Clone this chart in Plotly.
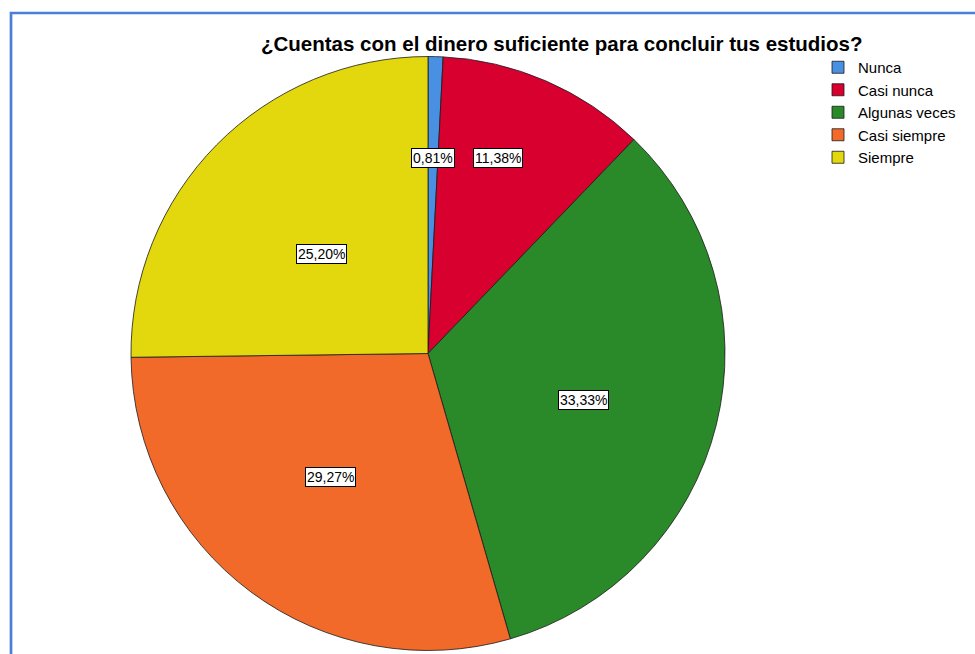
import math
import plotly.graph_objects as go

categories = ["Nunca", "Casi nunca", "Algunas veces", "Casi siempre", "Siempre"]
counts = [1, 14, 41, 36, 31]
pct_labels = ["0,81%", "11,38%", "33,33%", "29,27%", "25,20%"]
title_text = "¿Cuentas con el dinero suficiente para concluir tus estudios?"

colors = ["#4a90e2", "#d8002f", "#2a8a2a", "#f26a2a", "#e3d70e"]
label_radius = [0.66, 0.70, 0.545, 0.53, 0.49]
label_angle_shift = [0.0, -3.7, 2.8, 1.8, -1.7]

W, H = 975, 654
cx, cy, R = 428, 353.5, 297
FONT = "Liberation Sans, Arial, sans-serif"

fig = go.Figure(go.Pie(
    labels=categories, values=counts, sort=False, direction="clockwise",
    rotation=0, textinfo="none", hoverinfo="label+percent",
    marker=dict(colors=colors, line=dict(color="#1a1a1a", width=0.8)),
    domain=dict(x=[(cx - R) / W, (cx + R) / W], y=[1 - (cy + R) / H, 1 - (cy - R) / H]),
))

total = sum(counts)
cum = 0
annotations = []
for i, v in enumerate(counts):
    mid = (cum + v / 2) / total * 360 + label_angle_shift[i]
    cum += v
    a = math.radians(mid)
    px = cx + R * label_radius[i] * math.sin(a)
    py = cy - R * label_radius[i] * math.cos(a)
    annotations.append(dict(
        x=px / W, y=1 - py / H, xref="paper", yref="paper", text=pct_labels[i],
        showarrow=False, font=dict(family=FONT, size=14, color="#000"),
        bgcolor="#ffffff", bordercolor="#000000", borderwidth=1, borderpad=1,
        xanchor="center", yanchor="middle"))

annotations.append(dict(
    x=561 / W, y=1 - 44 / H, xref="paper", yref="paper", text="<b>" + title_text + "</b>",
    showarrow=False, font=dict(family=FONT, size=20.5, color="#000"),
    xanchor="center", yanchor="middle"))

fig.update_layout(
    width=W, height=H, margin=dict(l=0, r=0, t=0, b=0),
    paper_bgcolor="#ffffff", plot_bgcolor="#ffffff",
    annotations=annotations,
    legend=dict(x=818 / W, y=1 - 51 / H, xanchor="left", yanchor="top",
                font=dict(family=FONT, size=15, color="#000"),
                bgcolor="rgba(0,0,0,0)", tracegroupgap=0),
    shapes=[dict(type="rect", xref="paper", yref="paper",
                 x0=11 / W, x1=1.01, y0=-0.01, y1=1 - 13 / H,
                 line=dict(color="#4a7fd8", width=2.7))],
)

fig.write_html("out.html", config={"displayModeBar": False},
               post_script="document.body.style.margin='0px';")
